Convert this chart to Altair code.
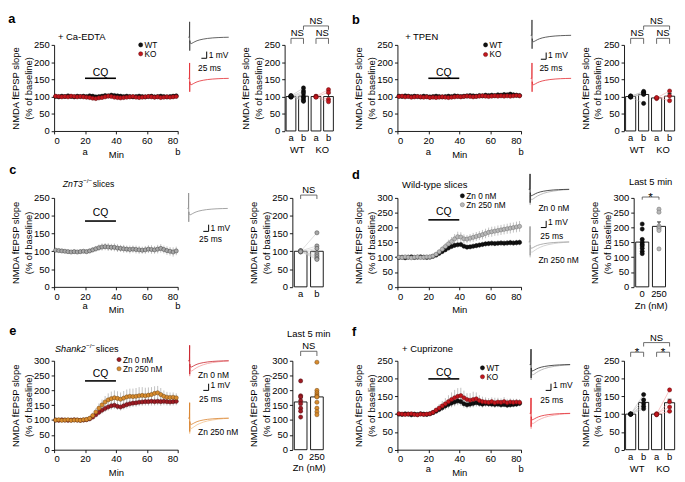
import altair as alt
import pandas as pd

# ============================ DATA ============================
TIME = [1, 3, 5, 7, 9, 11, 13, 15, 17, 19, 21, 23, 25, 27, 29, 31, 33, 35, 37, 39,
        41, 43, 45, 47, 49, 51, 53, 55, 57, 59, 61, 63, 65, 67, 69, 71, 73, 75, 77, 79]
CQ_ON, CQ_OFF = 20, 40

A_WT = [100, 99, 101, 100, 102, 100, 99, 101, 100, 101, 100, 102, 101, 99, 100, 101, 103, 102, 104, 103,
        102, 101, 100, 101, 100, 99, 100, 101, 100, 99, 100, 101, 99, 100, 101, 100, 99, 100, 101, 102]
A_WT_SEM = [2, 2, 3, 2, 3, 2, 2, 3, 2, 3, 3, 4, 3, 4, 4, 3, 4, 4, 3, 4,
            4, 3, 4, 3, 4, 3, 4, 3, 4, 4, 3, 4, 4, 3, 4, 4, 5, 5, 6, 6]
A_KO = [101, 100, 99, 100, 99, 101, 100, 99, 100, 99, 98, 97, 95, 94, 96, 97, 99, 101, 100, 98,
        97, 96, 97, 98, 99, 100, 98, 97, 98, 99, 100, 99, 98, 99, 97, 98, 99, 98, 99, 100]
A_KO_SEM = [2, 2, 2, 3, 2, 3, 2, 3, 3, 2, 3, 3, 4, 4, 3, 4, 3, 3, 4, 3,
            3, 4, 3, 3, 4, 3, 3, 4, 3, 3, 4, 3, 3, 4, 3, 4, 4, 4, 5, 5]

B_WT = [101, 100, 102, 101, 100, 101, 100, 99, 101, 100, 99, 100, 101, 100, 99, 100, 101, 100, 102, 101,
        100, 101, 102, 103, 102, 101, 103, 102, 104, 103, 104, 103, 105, 104, 106, 105, 107, 105, 104, 103]
B_WT_SEM = [3, 3, 4, 3, 4, 3, 4, 4, 3, 4, 4, 5, 4, 5, 4, 5, 5, 4, 5, 5,
            5, 4, 5, 5, 6, 5, 5, 6, 5, 6, 6, 5, 6, 6, 7, 6, 6, 7, 6, 7]
B_KO = [100, 101, 99, 100, 98, 99, 100, 99, 98, 99, 97, 98, 97, 98, 99, 98, 97, 98, 99, 100,
        99, 100, 101, 100, 99, 100, 101, 102, 101, 100, 101, 102, 101, 102, 101, 102, 101, 102, 103, 102]
B_KO_SEM = [2, 3, 2, 3, 3, 2, 3, 3, 2, 3, 3, 3, 4, 3, 3, 4, 3, 4, 3, 3,
            4, 3, 4, 4, 3, 4, 4, 3, 4, 4, 4, 3, 4, 4, 4, 4, 3, 4, 4, 4]

C_KO = [103, 102, 101, 100, 99, 98, 99, 98, 99, 100, 99, 101, 104, 107, 110, 112, 113, 112, 111, 111,
        109, 108, 107, 106, 105, 106, 105, 104, 103, 104, 106, 105, 104, 106, 108, 105, 102, 100, 98, 101]
C_KO_SEM = [4, 4, 4, 5, 4, 4, 5, 4, 5, 4, 5, 6, 7, 8, 9, 10, 10, 11, 10, 11,
            11, 10, 11, 10, 11, 10, 11, 11, 10, 11, 11, 12, 11, 12, 12, 11, 12, 12, 13, 12]

D_0 = [99, 100, 98, 100, 101, 99, 100, 101, 100, 99, 100, 103, 107, 113, 119, 125, 131, 136, 140, 142,
       143, 137, 134, 135, 137, 139, 141, 143, 145, 146, 147, 146, 147, 148, 147, 148, 149, 148, 149, 150]
D_0_SEM = [3, 3, 3, 3, 3, 3, 3, 3, 3, 3, 3, 4, 5, 6, 7, 7, 8, 8, 9, 9,
           9, 8, 8, 8, 9, 9, 9, 9, 9, 9, 10, 9, 9, 10, 10, 10, 10, 10, 10, 10]
D_250 = [100, 99, 101, 100, 98, 100, 101, 99, 100, 101, 101, 104, 110, 118, 127, 136, 145, 153, 162, 169,
         168, 162, 161, 164, 167, 170, 173, 176, 180, 184, 186, 188, 190, 192, 194, 196, 198, 200, 202, 204]
D_250_SEM = [4, 4, 4, 4, 4, 4, 4, 4, 4, 4, 4, 5, 7, 9, 11, 12, 14, 15, 16, 17,
             16, 15, 14, 14, 15, 15, 15, 16, 16, 16, 17, 16, 17, 17, 17, 17, 18, 17, 18, 18]

E_0 = [100, 99, 101, 100, 99, 100, 101, 100, 99, 100, 101, 104, 110, 118, 126, 133, 139, 144, 148, 150,
       146, 144, 148, 152, 155, 157, 158, 160, 161, 162, 162, 163, 162, 163, 162, 163, 162, 161, 162, 163]
E_0_SEM = [3, 3, 3, 3, 3, 3, 3, 3, 3, 3, 4, 5, 7, 9, 10, 11, 12, 12, 13, 13,
           12, 12, 12, 13, 13, 13, 13, 13, 13, 13, 13, 14, 13, 13, 14, 13, 13, 13, 13, 13]
E_250 = [100, 101, 99, 100, 101, 99, 100, 100, 99, 101, 102, 106, 115, 127, 140, 151, 161, 168, 172, 175,
         173, 170, 174, 178, 180, 179, 180, 182, 183, 182, 184, 186, 190, 192, 186, 180, 177, 176, 177, 175]
E_250_SEM = [4, 4, 4, 4, 4, 4, 4, 4, 4, 4, 5, 7, 10, 13, 16, 18, 20, 22, 24, 25,
             24, 23, 24, 25, 26, 27, 28, 29, 28, 27, 26, 25, 24, 23, 22, 20, 18, 17, 16, 15]

F_WT = [100, 99, 101, 100, 98, 100, 99, 101, 100, 99, 101, 104, 108, 113, 118, 123, 127, 131, 134, 137,
        135, 129, 126, 128, 130, 132, 130, 128, 130, 129, 128, 127, 128, 126, 127, 125, 126, 127, 128, 130]
F_WT_SEM = [3, 3, 3, 3, 3, 3, 3, 3, 3, 3, 4, 5, 6, 8, 9, 10, 11, 12, 12, 12,
            12, 11, 10, 10, 10, 11, 10, 10, 9, 9, 9, 9, 9, 8, 8, 8, 8, 8, 8, 8]
F_KO = [101, 100, 99, 100, 101, 99, 98, 100, 99, 100, 101, 105, 111, 117, 123, 129, 135, 141, 146, 150,
        152, 146, 141, 139, 141, 143, 138, 135, 134, 133, 135, 132, 134, 133, 135, 132, 134, 133, 134, 133]
F_KO_SEM = [3, 3, 3, 3, 3, 3, 3, 3, 3, 3, 4, 6, 8, 11, 14, 16, 18, 20, 22, 23,
            22, 20, 18, 20, 22, 18, 15, 14, 13, 12, 12, 14, 12, 11, 13, 11, 10, 10, 9, 9]

# bar charts
GENO_CATS = ["WT a", "WT b", "KO a", "KO b"]
AB_CATS = ["a", "b"]
ZN_CATS = ["0", "250"]

A_BAR_MEAN = [100, 101, 100, 100]
A_BAR_SEM = [1, 5, 1, 8]
A_BAR_PTS = [[102, 100, 99, 101, 98, 100, 103], [125, 116, 110, 100, 96, 90, 86],
             [101, 99, 100, 98], [120, 112, 92, 85]]
B_BAR_MEAN = [100, 106, 96, 101]
B_BAR_SEM = [1, 6, 1, 8]
B_BAR_PTS = [[100, 102, 98, 101, 99], [115, 112, 108, 106, 80], [96, 94, 97], [116, 102, 88]]
C_BAR_MEAN = [100, 100]
C_BAR_SEM = [1, 8]
C_BAR_PTS = [[100, 101, 99, 102, 98, 100, 101, 99], [152, 115, 108, 95, 90, 85, 80, 77]]
D_BAR_MEAN = [151, 204]
D_BAR_SEM = [11, 15]
D_BAR_PTS = [[212, 195, 160, 150, 143, 138, 130, 120, 112], [262, 252, 205, 200, 196, 190, 128]]
E_BAR_MEAN = [161, 178]
E_BAR_SEM = [14, 16]
E_BAR_PTS = [[232, 182, 178, 165, 155, 140, 130, 110], [295, 200, 192, 185, 180, 178, 160, 140, 128, 118]]
F_BAR_MEAN = [100, 133, 100, 132]
F_BAR_SEM = [1, 7, 1, 10]
F_BAR_PTS = [[100, 101, 99, 100, 100], [155, 140, 130, 122, 115], [100, 98, 101, 99], [168, 135, 120, 108]]

# example fEPSP traces (ms, mV)
TRACE_T = [0, 5, 6, 6.5, 7, 8, 10, 13, 17, 23, 31, 41, 54, 70, 90, 115, 140, 165, 190]
TRACE_SMALL = [0, 0, 2.3, -2.0, -0.5, -0.75, -0.9, -0.95, -0.9, -0.8, -0.66, -0.52, -0.39, -0.28,
               -0.18, -0.1, -0.05, -0.02, 0.0]
TRACE_BIG = [0, 0, 2.3, -2.3, -0.9, -1.25, -1.45, -1.55, -1.5, -1.38, -1.2, -1.0, -0.8, -0.6,
             -0.42, -0.27, -0.16, -0.08, -0.03]
SCALEBAR_MV = 1
SCALEBAR_MS = 25

# ============================ STYLE / LAYOUT ============================
FONT = "Liberation Sans"
FS = 9.6
SX = 0.985        # horizontal scale from reference pixels
SY = 0.975        # vertical scale from reference pixels
K = 0.22          # trace px per ms
M = 7.0           # trace px per mV
PT = 18           # marker area
YTITLE = ["NMDA fEPSP slope", "(% of baseline)"]

BLACK = ("#111111", "#000000")
RED = ("#c4161c", "#5e0b0e")
GREY_OPEN = ("#a8a8a8", "#3c3c3c")
GREY = ("#b8b8b8", "#6a6a6a")
DARKRED = ("#9e1b23", "#4a0a0e")
ORANGE = ("#d98c2e", "#6b4210")


def pxx(v):
    return round(v * SX, 2)


def pxy(v):
    return round(v * SY, 2)


def y_axis(ymax, offset=0.0):
    kw = dict(values=list(range(0, ymax + 1, 50)), title=YTITLE, tickSize=3, labelPadding=2,
              titlePadding=0.5, titleLineHeight=13, labelOverlap=False)
    if offset:
        kw["offset"] = offset
    return alt.Axis(**kw)


def txt(X, Y, xs_, ys_, labels, **props):
    df = pd.DataFrame({"x": xs_, "y": ys_, "label": labels})
    return alt.Chart(df).mark_text(**props).encode(x=X("x"), y=Y("y"), text="label:N")


def tc_chart(series, ymax, h, ann):
    xs = alt.Scale(domain=[0, 80], nice=False, zero=False)
    ys = alt.Scale(domain=[0, ymax], nice=False, zero=False)
    xa = alt.Axis(values=[0, 20, 40, 60, 80], title="Min", tickSize=3, labelPadding=1.5,
                  titlePadding=4.5, labelOverlap=False)
    ya = y_axis(ymax)
    X = lambda f: alt.X(f, type="quantitative", scale=xs, axis=xa)
    Y = lambda f: alt.Y(f, type="quantitative", scale=ys, axis=ya)
    rows = []
    for name, vals, sems, st in series:
        for t, v, s in zip(TIME, vals, sems):
            rows.append(dict(t=t, v=v, lo=v - s, hi=v + s, s=name))
    df = pd.DataFrame(rows)
    layers = [alt.Chart(df).mark_rule(color="#a6a6a6", strokeWidth=0.7)
              .encode(x=X("t"), y=Y("lo"), y2=alt.Y2("hi"))]
    for name, vals, sems, st in series:
        layers.append(alt.Chart(df[df["s"] == name]).mark_circle(
            size=PT, fill=st[0], stroke=st[1], strokeWidth=0.5, opacity=1)
            .encode(x=X("t"), y=Y("v")))
    cq_line, cq_text = ann["cq"]
    layers.append(alt.Chart(pd.DataFrame({"x": [CQ_ON], "x2": [CQ_OFF], "y": [cq_line]}))
                  .mark_rule(color="black", strokeWidth=1.6)
                  .encode(x=X("x"), x2=alt.X2("x2"), y=Y("y")))
    layers.append(txt(X, Y, [(CQ_ON + CQ_OFF) / 2], [cq_text], ["CQ"], align="center",
                      baseline="middle", fontSize=FS + 1))
    if ann.get("legend"):
        lx, lys = ann["legend"]
        for (name, vals, sems, st), ly in zip(series, lys):
            layers.append(alt.Chart(pd.DataFrame({"x": [lx], "y": [ly]})).mark_circle(
                size=PT, fill=st[0], stroke=st[1], strokeWidth=0.5, opacity=1)
                .encode(x=X("x"), y=Y("y")))
        layers.append(txt(X, Y, [lx] * len(lys), lys, [s[0] for s in series], align="left",
                          baseline="middle", dx=4, fontSize=8.4))
    lx, ly, lt = ann["letter"]
    layers.append(txt(X, Y, [lx], [ly], [lt], align="left", baseline="alphabetic",
                      fontSize=13, fontWeight="bold"))
    for cx, cy, ct, style, size, dy in ann["cond"]:
        layers.append(txt(X, Y, [cx], [cy], [ct], align="left", baseline="middle",
                          fontSize=size, fontStyle=style, dy=dy))
    if ann.get("ab") is not None:
        layers.append(txt(X, Y, [20, 80], [ann["ab"]] * 2, ["a", "b"], align="center",
                          baseline="middle", fontSize=FS))
    return alt.layer(*layers).properties(width=pxx(128), height=pxy(h))


def bar_chart(cats, means, sems, pts, styles, ymax, h, off, w, pairs, brackets, notes,
              xtitle=None, labexpr=None):
    PI, PO = 0.22, 0.12
    xs = alt.Scale(domain=cats, range=[pxx(off), pxx(off + w)], paddingInner=PI, paddingOuter=PO)
    step = pxx(w) / (len(cats) - PI + 2 * PO)
    ys = alt.Scale(domain=[0, ymax], nice=False, zero=False)
    xkw = dict(ticks=False, domain=False, labelAngle=0, labelPadding=2, title=xtitle,
               titlePadding=2, labelOverlap=False)
    if labexpr:
        xkw["labelExpr"] = labexpr
    xa = alt.Axis(**xkw)
    ya = y_axis(ymax, -pxx(off))
    X = lambda f: alt.X(f, type="nominal", scale=xs, axis=xa)
    Y = lambda f: alt.Y(f, type="quantitative", scale=ys, axis=ya)
    bars = pd.DataFrame({"x": cats, "y": means, "hi": [m + s for m, s in zip(means, sems)]})
    layers = [
        alt.Chart(bars).mark_bar(fill="white", stroke="black", strokeWidth=0.9, opacity=1)
        .encode(x=X("x"), y=Y("y")),
        alt.Chart(bars).mark_rule(color="black", strokeWidth=0.8).encode(x=X("x"), y=Y("y"), y2=alt.Y2("hi")),
        alt.Chart(bars).mark_tick(orient="horizontal", size=pxx(4), thickness=0.8, color="black", opacity=1)
        .encode(x=X("x"), y=Y("hi")),
    ]
    ci = {c: i for i, c in enumerate(cats)}
    for ca, cb, color in pairs:
        rows = []
        for j, (va, vb) in enumerate(zip(pts[ci[ca]], pts[ci[cb]])):
            rows += [dict(x=ca, y=va, subj=j), dict(x=cb, y=vb, subj=j)]
        layers.append(alt.Chart(pd.DataFrame(rows)).mark_line(color=color, strokeWidth=0.6)
                      .encode(x=X("x"), y=Y("y"), detail="subj:N"))
    for c, vals, st in zip(cats, pts, styles):
        layers.append(alt.Chart(pd.DataFrame({"x": [c] * len(vals), "y": vals})).mark_circle(
            size=PT, fill=st[0], stroke=st[1], strokeWidth=0.5, opacity=1)
            .encode(x=X("x"), y=Y("y")))
    for c1, c2, yb, ye, lab in brackets:
        layers.append(alt.Chart(pd.DataFrame({"x": [c1], "x2": [c2], "y": [yb]}))
                      .mark_rule(color="#444444", strokeWidth=0.8)
                      .encode(x=X("x"), x2=alt.X2("x2"), y=Y("y")))
        layers.append(alt.Chart(pd.DataFrame({"x": [c1, c2], "y": [yb, yb], "y2": [ye, ye]}))
                      .mark_rule(color="#444444", strokeWidth=0.8)
                      .encode(x=X("x"), y=Y("y"), y2=alt.Y2("y2")))
        star = lab == "*"
        layers.append(txt(X, Y, [c1], [yb], [lab], align="center", baseline="alphabetic",
                          dx=(ci[c2] - ci[c1]) * step / 2, dy=4 if star else -2,
                          fontSize=12 if star else FS))
    for c, y, t in notes:
        layers.append(txt(X, Y, [c], [y], [t], align="center", baseline="middle",
                          dx=step / 2, fontSize=FS))
    return alt.layer(*layers).properties(width=pxx(off + w), height=pxy(h))


def trace_chart(panel_left, panel_w, row_top, row_h, x_start, traces, sbar, texts):
    base0 = traces[0][0]
    t_left = -(x_start - panel_left) / K
    v_top = (base0 - row_top) / M
    xs = alt.Scale(domain=[t_left, t_left + panel_w / K], nice=False, zero=False)
    ys = alt.Scale(domain=[v_top - row_h / M, v_top], nice=False, zero=False)
    X = lambda f: alt.X(f, type="quantitative", scale=xs, axis=None)
    Y = lambda f: alt.Y(f, type="quantitative", scale=ys, axis=None)
    layers = []
    for base_y, shape, color in traces:
        off = -(base_y - base0) / M
        df = pd.DataFrame({"x": TRACE_T, "y": [s + off for s in shape]})
        layers.append(alt.Chart(df).mark_line(color=color, strokeWidth=0.8).encode(x=X("x"), y=Y("y")))
    sx, sy = sbar
    tsb = (sx - x_start) / K
    vsb = -(sy - base0) / M
    layers.append(alt.Chart(pd.DataFrame({"x": [tsb - SCALEBAR_MS], "x2": [tsb], "y": [vsb]}))
                  .mark_rule(color="black", strokeWidth=1).encode(x=X("x"), x2=alt.X2("x2"), y=Y("y")))
    layers.append(alt.Chart(pd.DataFrame({"x": [tsb], "y": [vsb], "y2": [vsb + SCALEBAR_MV]}))
                  .mark_rule(color="black", strokeWidth=1).encode(x=X("x"), y=Y("y"), y2=alt.Y2("y2")))
    for tx, ty, tt in texts:
        layers.append(txt(X, Y, [(tx - x_start) / K], [-(ty - base0) / M], [tt], align="left",
                          baseline="middle", fontSize=8.6))
    return alt.layer(*layers).properties(width=pxx(panel_w), height=pxy(row_h))


def spacer(w, h):
    return (alt.Chart(pd.DataFrame({"z": [0]})).mark_point(opacity=0, size=1)
            .encode(x=alt.value(0), y=alt.value(0)).properties(width=pxx(w), height=pxy(h)))


# ---------------- panels ----------------
tcA = tc_chart([("WT", A_WT, A_WT_SEM, BLACK), ("KO", A_KO, A_KO_SEM, RED)], 250, 90,
               dict(letter=(-29.7, 314, "a"), cond=[(2.5, 272, "+ Ca-EDTA", "normal", FS, 0)],
                    legend=(56, [250, 224]), cq=(153, 169), ab=-60))
tcB = tc_chart([("WT", B_WT, B_WT_SEM, BLACK), ("KO", B_KO, B_KO_SEM, RED)], 250, 90,
               dict(letter=(-29.4, 312, "b"), cond=[(5, 272, "+ TPEN", "normal", FS, 0)],
                    legend=(57, [250, 222]), cq=(153, 169), ab=-60))
tcC = tc_chart([("KO", C_KO, C_KO_SEM, GREY_OPEN)], 250, 93,
               dict(letter=(-29, 317, "c"),
                    cond=[(5.6, 288, "ZnT3", "italic", 8.8, 0), (18.9, 288, "−/−", "normal", 6.2, -3.5),
                          (25, 288, "slices", "normal", 8.8, 0)],
                    legend=None, cq=(185, 207), ab=-55))
tcD = tc_chart([("Zn 0 nM", D_0, D_0_SEM, BLACK), ("Zn 250 nM", D_250, D_250_SEM, GREY)], 300, 93,
               dict(letter=(-29.4, 364, "d"), cond=[(3, 345, "Wild-type slices", "normal", FS, 0)],
                    legend=(42, [307, 277]), cq=(226, 252), ab=None))
tcE = tc_chart([("Zn 0 nM", E_0, E_0_SEM, DARKRED), ("Zn 250 nM", E_250, E_250_SEM, ORANGE)], 300, 93,
               dict(letter=(-29, 387, "e"),
                    cond=[(0.6, 339, "Shank2", "italic", 9.3, 0), (20.8, 339, "−/−", "normal", 6.2, -3.5),
                          (27, 339, "slices", "normal", 9.3, 0)],
                    legend=(42, [304, 273]), cq=(232, 255), ab=None))
tcF = tc_chart([("WT", F_WT, F_WT_SEM, BLACK), ("KO", F_KO, F_KO_SEM, RED)], 250, 93,
               dict(letter=(-29.4, 320, "f"), cond=[(3, 282, "+ Cuprizone", "normal", FS, 0)],
                    legend=(55, [230, 205]), cq=(199, 215), ab=-55))

LAB = "split(datum.label, ' ')[1]"
PAIRS_G = [("WT a", "WT b", "#b8b8b8"), ("KO a", "KO b", "#f2a3a3")]
barA = bar_chart(GENO_CATS, A_BAR_MEAN, A_BAR_SEM, A_BAR_PTS, [BLACK, BLACK, RED, RED], 250, 90, 0, 52,
                 PAIRS_G, [("WT a", "WT b", 269, 253, "NS"), ("KO a", "KO b", 269, 253, "NS"),
                           ("WT b", "KO b", 305, 294, "NS")],
                 [("WT a", -55, "WT"), ("KO a", -55, "KO")], labexpr=LAB)
barB = bar_chart(GENO_CATS, B_BAR_MEAN, B_BAR_SEM, B_BAR_PTS, [BLACK, BLACK, RED, RED], 250, 90, 0, 54,
                 PAIRS_G, [("WT a", "WT b", 269, 253, "NS"), ("KO a", "KO b", 269, 253, "NS"),
                           ("WT b", "KO b", 305, 294, "NS")],
                 [("WT a", -55, "WT"), ("KO a", -55, "KO")], labexpr=LAB)
barC = bar_chart(AB_CATS, C_BAR_MEAN, C_BAR_SEM, C_BAR_PTS, [GREY_OPEN, GREY_OPEN], 250, 93, 8, 34,
                 [("a", "b", "#c8c8c8")], [("a", "b", 258, 247, "NS")], [])
barD = bar_chart(ZN_CATS, D_BAR_MEAN, D_BAR_SEM, D_BAR_PTS, [BLACK, GREY], 300, 93, 10, 35,
                 [], [("0", "250", 303, 294, "*")], [("0", 355, "Last 5 min")], xtitle="Zn (nM)")
barE = bar_chart(ZN_CATS, E_BAR_MEAN, E_BAR_SEM, E_BAR_PTS, [DARKRED, ORANGE], 300, 93, 8, 34,
                 [], [("0", "250", 332, 316, "NS")], [("0", 390, "Last 5 min")], xtitle="Zn (nM)")
barF = bar_chart(GENO_CATS, F_BAR_MEAN, F_BAR_SEM, F_BAR_PTS, [BLACK, BLACK, RED, RED], 250, 93, 0, 54,
                 PAIRS_G, [("WT a", "WT b", 274, 261, "*"), ("KO a", "KO b", 274, 261, "*"),
                           ("WT b", "KO b", 301, 290, "NS")],
                 [("WT a", -54, "WT"), ("KO a", -54, "KO")], labexpr=LAB)

trA = trace_chart(176, 109, 33, 90, 186, [(25, TRACE_SMALL, "#3a3a3a"), (68, TRACE_SMALL, "#e3262d")],
                  (205, 47), [(207, 44, "1 mV"), (196, 57, "25 ms")])
trB = trace_chart(528, 105, 33, 90, 537, [(23, TRACE_SMALL, "#333333"), (68, TRACE_SMALL, "#e3262d")],
                  (553, 48), [(555, 44, "1 mV"), (546, 57, "25 ms")])
trC = trace_chart(176, 109, 192, 93, 185, [(203, TRACE_SMALL, "#8c8c8c")],
                  (207, 227), [(209, 223, "1 mV"), (197, 235, "25 ms")])
trD = trace_chart(528, 105, 192, 93, 535,
                  [(183, TRACE_BIG, "#aaaaaa"), (183, TRACE_SMALL, "#222222"),
                   (238, TRACE_BIG, "#c8c8c8"), (238, TRACE_SMALL, "#9a9a9a")],
                  (553, 223), [(545, 203, "Zn 0 nM"), (555, 217, "1 mV"), (547, 232, "25 ms"),
                               (545, 257, "Zn 250 nM")])
trE = trace_chart(176, 109, 362, 93, 186,
                  [(362, TRACE_BIG, "#f39a9a"), (362, TRACE_SMALL, "#c8202a"),
                   (422, TRACE_BIG, "#f2c08a"), (422, TRACE_SMALL, "#d9822b")],
                  (207, 393), [(196, 377, "Zn 0 nM"), (209, 387, "1 mV"), (197, 402, "25 ms"),
                               (196, 437, "Zn 250 nM")])
trF = trace_chart(528, 105, 362, 93, 536,
                  [(366, TRACE_BIG, "#a8a8a8"), (366, TRACE_SMALL, "#222222"),
                   (417, TRACE_BIG, "#f4a0a0"), (417, TRACE_SMALL, "#e3262d")],
                  (558, 393), [(560, 387, "1 mV"), (547, 403, "25 ms")])

grid = alt.concat(
    tcA, trA, barA, spacer(63, 159), tcB, trB, barB,
    tcC, trC, barC, spacer(63, 170), tcD, trD, barD,
    tcE, trE, barE, spacer(63, 93), tcF, trF, barF,
    columns=7, spacing=0, bounds="flush", align="each",
)

chart = (grid.properties(padding=0)
         .configure(font=FONT)
         .configure_view(strokeWidth=0)
         .configure_axis(labelFont=FONT, titleFont=FONT, labelFontSize=FS, titleFontSize=FS,
                         titleFontWeight="normal", labelColor="black", titleColor="black",
                         domainColor="black", tickColor="black", grid=False,
                         domainWidth=0.9, tickWidth=0.9))

chart.save("out.html", embed_options={"renderer": "svg", "actions": False})
